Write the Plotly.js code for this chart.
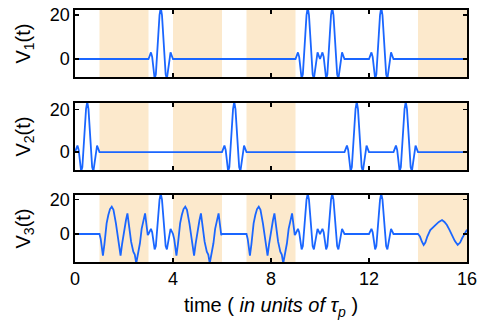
<!DOCTYPE html>
<html>
<head>
<meta charset="utf-8">
<script src="https://cdn.plot.ly/plotly-3.0.1.min.js"></script>
<style>html,body{margin:0;padding:0;background:#fff;}#chart{width:477px;height:322px;}</style>
</head>
<body>
<div id="chart"></div>
<script>
// ---- data (time in units of tau_p) ----
const timeRange = [0, 16];
const xTickVals = [0, 4, 8, 12, 16];
const yTickVals = [0, 20];
const shadeStarts = [1, 4, 7, 14];
const shadeEnds = [3, 6, 9, 16];

// single pulse (offsets from pulse centre)
const pulseOffsets = [-0.5, -0.45, -0.4, -0.35, -0.3, -0.25, -0.2, -0.15, -0.1, -0.05, 0, 0.05, 0.1, 0.15, 0.2, 0.25, 0.3, 0.35, 0.4, 0.45, 0.5];
const pulseShape   = [0, 1.5, 3, 1, -4.5, -9, -7, 0, 11, 20, 23.5, 20, 11, 0, -7, -9, -4.5, 1, 3, 1.5, 0];

const v1PulseCenters = [3.5, 9.5, 10.5, 12.5];
const v2PulseCenters = [0.5, 6.5, 11.5, 13.5];

// irregular burst seen in V3 (offsets from burst start)
const burstOffsets = [0, 0.05, 0.1, 0.14, 0.2, 0.29, 0.36, 0.43, 0.5, 0.57, 0.67, 0.75, 0.8, 0.86, 0.92, 0.97, 1.03, 1.08, 1.14, 1.2, 1.29, 1.38, 1.44, 1.5, 1.57, 1.65, 1.72, 1.8, 1.86, 1.92, 1.97, 2.0];
const burstShape   = [0, -3, -10, -12.6, -6, 6.2, 11, 14.5, 15.9, 14, 6.2, -3, -9, -12.6, -6, -0.6, 3, 8, 12, 5, -4.5, -10.3, -12, -17, -12, -5.4, 3, 9, 12, 5, -0.6, 0];
const v3BurstStarts = [1, 4, 7];

// slow wave at the end of V3 (offsets from start)
const slowOffsets = [0, 0.08, 0.16, 0.23, 0.3, 0.38, 0.5, 0.6, 0.71, 0.85, 0.98, 1.08, 1.18, 1.28, 1.39, 1.5, 1.62, 1.72, 1.8, 1.93, 2.0];
const slowShape   = [0, -1.5, -4.5, -6.4, -5, -1.5, 2.3, 4, 5.2, 7, 8.1, 7, 5.2, 2.5, -0.6, -4, -6.4, -5, -2.5, 1.3, 2.5];
const v3SlowStart = 14;

const panelTitles = ['V<sub>1</sub>(t)', 'V<sub>2</sub>(t)', 'V<sub>3</sub>(t)'];
const xTitle = 'time ( <i>in units of τ<sub>p</sub></i> )';

// ---- assemble series from the segments ----
function buildSeries(segments) {
  segments.sort((a, b) => a.start - b.start);
  const t = [timeRange[0]], v = [0];
  segments.forEach(s => {
    s.offsets.forEach((o, i) => { t.push(s.start + o); v.push(s.values[i]); });
  });
  if (t[t.length - 1] < timeRange[1]) { t.push(timeRange[1]); v.push(0); }
  return {t, v};
}
const pulseSeg = c => ({start: c, offsets: pulseOffsets, values: pulseShape});
const s1 = buildSeries(v1PulseCenters.map(pulseSeg));
const s2 = buildSeries(v2PulseCenters.map(pulseSeg));
const s3 = buildSeries(
  v1PulseCenters.map(pulseSeg)
    .concat(v3BurstStarts.map(b => ({start: b, offsets: burstOffsets, values: burstShape})))
    .concat([{start: v3SlowStart, offsets: slowOffsets, values: slowShape}])
);

const lineColor = '#1a66ff';
const series = [s1, s2, s3];
const traces = series.map((s, i) => ({
  x: s.t, y: s.v, type: 'scatter', mode: 'lines',
  xaxis: i === 0 ? 'x' : 'x' + (i + 1), yaxis: i === 0 ? 'y' : 'y' + (i + 1),
  line: {color: lineColor, width: 1.8, shape: 'linear'},
  hoverinfo: 'skip', showlegend: false
}));

const font = {family: 'Arial, "Liberation Sans", sans-serif', size: 18, color: '#000'};
const domains = [[0.734, 1], [0.365, 0.631], [0, 0.266]];
const yRanges = [[-8.2, 22.3], [-8.4, 22.9], [-16.3, 22.7]];

const layout = {
  width: 477, height: 322,
  margin: {l: 75, r: 10, t: 10, b: 60},
  paper_bgcolor: '#fff', plot_bgcolor: '#fff',
  font: font, showlegend: false, shapes: []
};
const axCommon = {
  showline: true, linecolor: '#000', linewidth: 1.6, mirror: 'ticks',
  ticks: 'inside', ticklen: 4, tickwidth: 1.2, tickcolor: '#000',
  showgrid: false, zeroline: false, automargin: false, fixedrange: true,
  ticklabeloverflow: 'allow',
  tickfont: {family: font.family, size: 18, color: '#000'}
};
for (let i = 0; i < 3; i++) {
  const xs = i === 0 ? '' : String(i + 1);
  layout['xaxis' + xs] = Object.assign({}, axCommon, {
    domain: [0, 1], anchor: 'y' + xs, range: timeRange,
    tickmode: 'array', tickvals: xTickVals, ticktext: xTickVals.map(String),
    showticklabels: i === 2,
    title: i === 2 ? {text: xTitle, font: {family: font.family, size: 20, color: '#000'}, standoff: 10} : undefined
  });
  layout['yaxis' + xs] = Object.assign({}, axCommon, {
    domain: domains[i], anchor: 'x' + xs, range: yRanges[i],
    tickmode: 'array', tickvals: yTickVals, ticktext: yTickVals.map(String),
    title: {text: panelTitles[i], font: {family: font.family, size: 20, color: '#000'}, standoff: 14}
  });
  shadeStarts.forEach((a, k) => {
    layout.shapes.push({
      type: 'rect', xref: 'x' + xs, yref: 'y' + xs + ' domain',
      x0: a, x1: shadeEnds[k], y0: 0, y1: 1,
      fillcolor: '#fce9cc', line: {width: 0}, layer: 'below'
    });
  });
}

Plotly.newPlot('chart', traces, layout, {staticPlot: true, displayModeBar: false});
</script>
</body>
</html>
